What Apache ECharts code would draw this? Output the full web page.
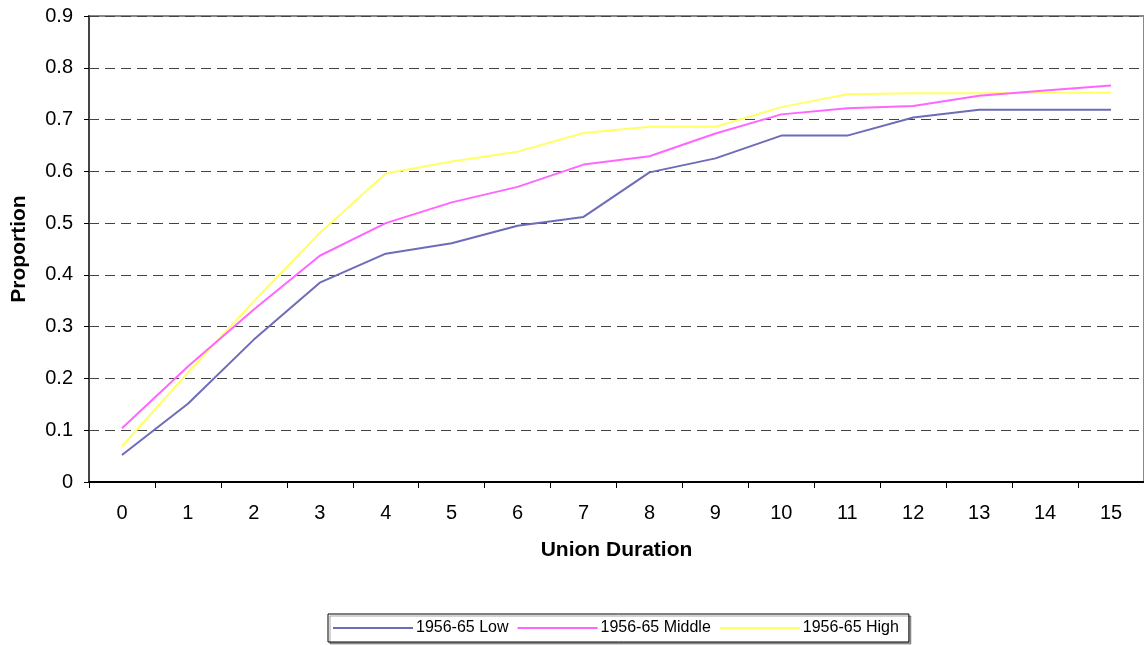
<!DOCTYPE html>
<html>
<head>
<meta charset="utf-8">
<script src="https://cdn.jsdelivr.net/npm/echarts@6/dist/echarts.min.js"></script>
<style>html,body{margin:0;padding:0;background:#fff}#c{width:1144px;height:645px}</style>
</head>
<body>
<div id="c"></div>
<script>
const categories = ['0','1','2','3','4','5','6','7','8','9','10','11','12','13','14','15'];
const lowValues = [0.052,0.151,0.275,0.385,0.441,0.461,0.495,0.512,0.598,0.625,0.669,0.669,0.704,0.719,0.719,0.719];
const middleValues = [0.104,0.223,0.333,0.437,0.500,0.540,0.570,0.613,0.629,0.673,0.710,0.722,0.726,0.746,0.756,0.766];
const highValues = [0.069,0.211,0.349,0.481,0.596,0.619,0.638,0.674,0.686,0.686,0.724,0.749,0.751,0.751,0.752,0.752];
const seriesNames = ['1956-65 Low','1956-65 Middle','1956-65 High'];
const colors = ['#6C6CB8','#FF66FF','#FFFF66'];

const chart = echarts.init(document.getElementById('c'), null, {renderer:'canvas'});
const font = 'Liberation Sans, Arial, sans-serif';
chart.setOption({
  animation:false,
  backgroundColor:'#fff',
  color:colors,
  grid:{left:89, top:16, right:-2, bottom:163, show:true, borderColor:'#888', borderWidth:2, backgroundColor:'transparent'},
  legend:{
    left:328, top:614,
    padding:[6,10,6,5],
    borderColor:'#000', borderWidth:1,
    shadowColor:'rgba(0,0,0,0.35)', shadowOffsetX:2, shadowOffsetY:2, shadowBlur:0,
    backgroundColor:'#fff',
    itemWidth:80, itemHeight:2, itemGap:9,
    icon:'rect',
    textStyle:{fontFamily:font, fontSize:16, color:'#000', padding:[0,0,0,-2]},
    data:seriesNames
  },
  xAxis:{
    type:'category', data:categories, boundaryGap:true,
    name:'Union Duration', nameLocation:'middle', nameGap:58,
    nameTextStyle:{fontFamily:font, fontSize:21, fontWeight:'bold', color:'#000'},
    axisLine:{lineStyle:{color:'#000', width:2}},
    axisTick:{show:true, length:6, inside:false, lineStyle:{color:'#000'}},
    axisLabel:{fontFamily:font, fontSize:20, color:'#000', margin:21},
    splitLine:{show:false}
  },
  yAxis:{
    type:'value', min:0, max:0.9, interval:0.1,
    name:'Proportion', nameLocation:'middle', nameGap:59, nameRotate:90,
    nameTextStyle:{fontFamily:font, fontSize:21, fontWeight:'bold', color:'#000'},
    axisLine:{show:true, lineStyle:{color:'#444', width:2}},
    axisTick:{show:true, length:5, lineStyle:{color:'#000'}},
    axisLabel:{fontFamily:font, fontSize:20, color:'#000', margin:16, formatter:v=>v===0?'0':v.toFixed(1)},
    splitLine:{show:true, lineStyle:{color:'#444', type:[10,6], width:1}}
  },
  series:[
    {name:seriesNames[0], type:'line', data:lowValues, symbol:'none', lineStyle:{width:2, color:colors[0]}, z:3},
    {name:seriesNames[1], type:'line', data:middleValues, symbol:'none', lineStyle:{width:2, color:colors[1]}, z:3},
    {name:seriesNames[2], type:'line', data:highValues, symbol:'none', lineStyle:{width:2, color:colors[2]}, z:2}
  ]
});
</script>
</body>
</html>
